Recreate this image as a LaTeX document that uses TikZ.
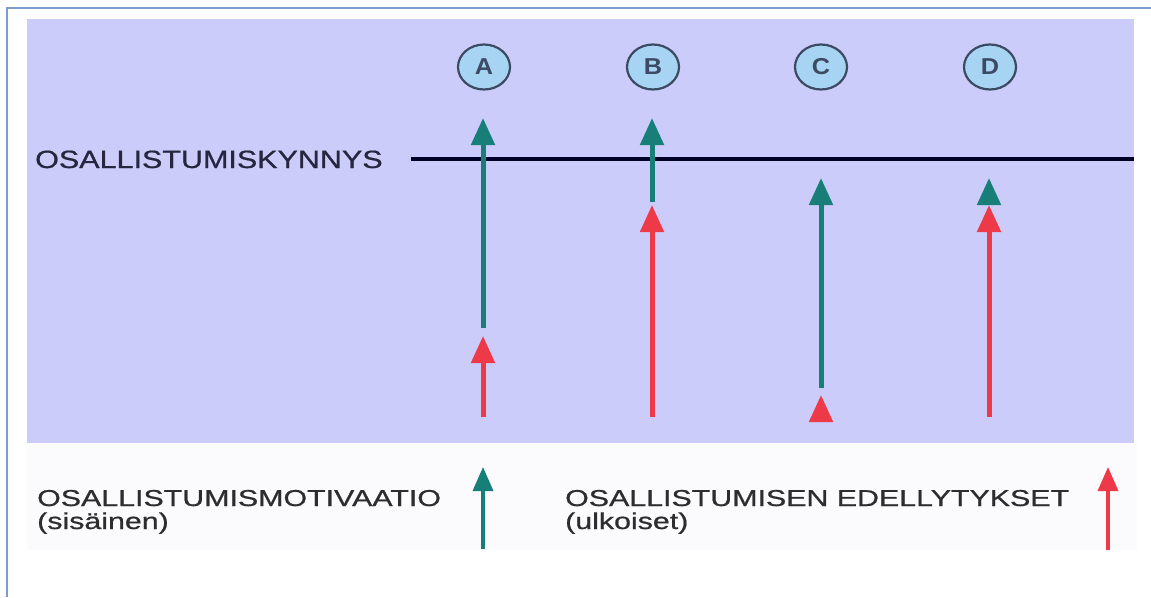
\documentclass[tikz,border=0pt]{standalone}
\usepackage{fontspec}
\setmainfont{Liberation Sans}
\newfontfamily\heavyfont[FakeBold=0.6]{Liberation Sans}
\usetikzlibrary{arrows.meta,shapes.geometric}
\definecolor{bgpurple}{RGB}{204,204,250}
\definecolor{legendbg}{RGB}{251,251,253}
\definecolor{framecol}{RGB}{125,155,205}
\definecolor{tealc}{RGB}{24,126,120}
\definecolor{redc}{RGB}{238,58,72}
\definecolor{circfill}{RGB}{168,212,244}
\definecolor{circdraw}{RGB}{60,74,100}
\definecolor{headtxt}{RGB}{38,38,62}
\definecolor{legtxt}{RGB}{45,45,45}
\tikzset{
  motiv/.style={draw=tealc, line width=5pt, -{Triangle[length=27pt,width=23pt]}},
  edell/.style={draw=redc, line width=5pt, -{Triangle[length=27pt,width=23pt]}},
  legmotiv/.style={draw=tealc, line width=3.5pt, -{Triangle[length=24pt,width=20pt]}},
  legedell/.style={draw=redc, line width=3.5pt, -{Triangle[length=24pt,width=20pt]}},
  casecirc/.style={ellipse, draw=circdraw, line width=2.2pt, fill=circfill,
    minimum width=52pt, minimum height=45pt, inner sep=0pt, text=circdraw,
    font=\fontsize{23}{26}\selectfont\bfseries},
  headlbl/.style={anchor=base west, inner sep=0pt, text=headtxt,
    font=\heavyfont\fontsize{25}{29}\selectfont},
  leglbl/.style={anchor=base west, inner sep=0pt, text=legtxt,
    font=\heavyfont\fontsize{23}{26}\selectfont},
}
\begin{document}
\begin{tikzpicture}[x=1pt,y=-1pt]
\useasboundingbox (0,0) rectangle (1151,597);
\fill[white] (0,0) rectangle (1151,597);
\draw[framecol, line width=1.5pt] (1151,8) -- (7,8) -- (7,597);
\fill[bgpurple] (27,19) rectangle (1134,443);
\fill[legendbg] (27,443) rectangle (1137,550);

% threshold
\coordinate (thrL) at (411,159);
\coordinate (thrR) at (1134,159);
\draw[line width=3.5pt, black!85!blue] (thrL) -- (thrR);
\node[headlbl] (thr) at (35,168) {\scalebox{1.22}[1]{OSALLISTUMISKYNNYS}};

% case circles
\node[casecirc] (A) at (484,67) {\scalebox{1.1}[1]{A}};
\node[casecirc] (B) at (653,67) {\scalebox{1.1}[1]{B}};
\node[casecirc] (C) at (821,67) {\scalebox{1.1}[1]{C}};
\node[casecirc] (D) at (990,67) {\scalebox{1.1}[1]{D}};

% A
\coordinate (Ata) at (483,328); \coordinate (Atb) at (483,118);
\coordinate (Ara) at (483,417); \coordinate (Arb) at (483,336);
\draw[motiv] (Ata) -- (Atb);
\draw[edell] (Ara) -- (Arb);
% B
\coordinate (Bta) at (652,202); \coordinate (Btb) at (652,118);
\coordinate (Bra) at (652,417); \coordinate (Brb) at (652,205);
\draw[motiv] (Bta) -- (Btb);
\draw[edell] (Bra) -- (Brb);
% C
\coordinate (Cta) at (821,388); \coordinate (Ctb) at (821,178);
\coordinate (Cra) at (821,422); \coordinate (Crb) at (821,395);
\draw[motiv] (Cta) -- (Ctb);
\draw[edell] (Cra) -- (Crb);
% D
\coordinate (Dta) at (989,205); \coordinate (Dtb) at (989,178);
\coordinate (Dra) at (989,417); \coordinate (Drb) at (989,205);
\draw[edell] (Dra) -- (Drb);
\draw[motiv] (Dta) -- (Dtb);

% legend
\node[leglbl] (m1) at (37,506) {\scalebox{1.32}[1]{OSALLISTUMISMOTIVAATIO}};
\node[leglbl] (m2) at (37,529) {\scalebox{1.32}[1]{(sisäinen)}};
\node[leglbl] (e1) at (565,506) {\scalebox{1.32}[1]{OSALLISTUMISEN EDELLYTYKSET}};
\node[leglbl] (e2) at (565,529) {\scalebox{1.32}[1]{(ulkoiset)}};
\coordinate (Lta) at (483,549); \coordinate (Ltb) at (483,467);
\coordinate (Lra) at (1108,550); \coordinate (Lrb) at (1108,467);
\draw[legmotiv] (Lta) -- (Ltb);
\draw[legedell] (Lra) -- (Lrb);
\end{tikzpicture}
\end{document}
